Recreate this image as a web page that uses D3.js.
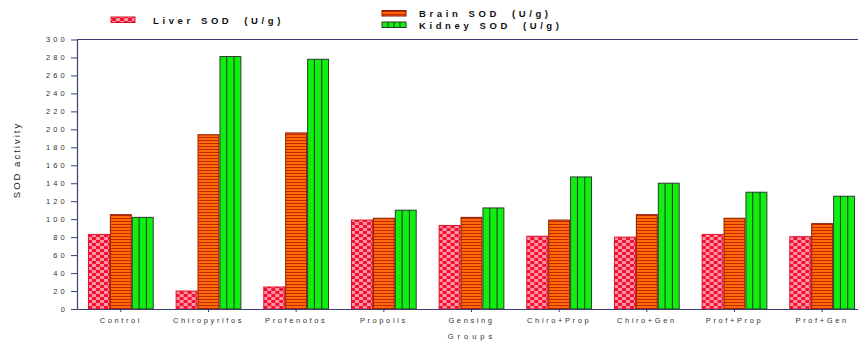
<!DOCTYPE html>
<html>
<head>
<meta charset="utf-8">
<script src="https://cdn.jsdelivr.net/npm/d3@7"></script>
<style>
  body { margin: 0; background: #fff; }
  svg { display: block; font-family: "Liberation Sans", Arial, sans-serif; }
</style>
</head>
<body>
<svg id="chart"></svg>
<script>
const groups = ['Control', 'Chiropyrifos', 'Profenofos', 'Propolis', 'Gensing',
  'Chiro+Prop', 'Chiro+Gen', 'Prof+Prop', 'Prof+Gen'];
const series = ['Liver SOD (U/g)', 'Brain SOD (U/g)', 'Kidney SOD (U/g)'];
const liver = [83, 20, 24.5, 99, 93, 81, 80, 83, 80.5];
const brain = [105, 194, 196, 101, 102, 99, 105, 101, 95];
const kidney = [102, 281, 278, 110, 112.5, 147, 140, 130, 125.5];
const yTicks = [0, 20, 40, 60, 80, 100, 120, 140, 160, 180, 200, 220, 240, 260, 280, 300];

const W = 858, H = 343;
const plotLeft = 77, plotTop = 39.5, plotBottom = 309;
const axisColor = '#3c3c70';

const svg = d3.select('#chart').attr('width', W).attr('height', H);
const defs = svg.append('defs');

// liver: red / pink checkerboard
const pl = defs.append('pattern').attr('id', 'pLiver')
  .attr('patternUnits', 'userSpaceOnUse').attr('width', 8).attr('height', 6);
pl.append('rect').attr('width', 8).attr('height', 6).attr('fill', '#ff95a8');
pl.append('rect').attr('width', 4).attr('height', 3).attr('fill', '#f5102e');
pl.append('rect').attr('x', 4).attr('y', 3).attr('width', 4).attr('height', 3).attr('fill', '#f5102e');

// brain: orange with thin dark horizontal stripes
const pb = defs.append('pattern').attr('id', 'pBrain')
  .attr('patternUnits', 'userSpaceOnUse').attr('width', 6).attr('height', 3);
pb.append('rect').attr('width', 6).attr('height', 3).attr('fill', '#ff6a08');
pb.append('rect').attr('y', 2).attr('width', 6).attr('height', 1).attr('fill', '#c42800');

const fills = ['url(#pLiver)', 'url(#pBrain)', '#10f010'];
const strokes = ['#e0102a', '#8a1a00', '#2b3b2b'];

const x = d3.scaleBand().domain(groups).range([plotLeft, 866])
  .paddingInner(0.25).paddingOuter(0.125);
const xs = d3.scaleBand().domain(series).range([0, x.bandwidth()]);
const y = d3.scaleLinear().domain([0, 300]).range([plotBottom, plotTop]);

const rows = groups.map((g, i) => ({ g, vals: [liver[i], brain[i], kidney[i]] }));

// top frame line
svg.append('line')
  .attr('x1', plotLeft).attr('x2', W).attr('y1', y(300)).attr('y2', y(300))
  .attr('stroke', axisColor).attr('stroke-width', 1.2);

const gGroup = svg.selectAll('g.grp').data(rows).join('g')
  .attr('class', 'grp')
  .attr('transform', d => `translate(${x(d.g)},0)`);

gGroup.selectAll('rect').data(d => d.vals.map((v, k) => ({ v, k })))
  .join('rect')
  .attr('x', d => xs(series[d.k]) + 0.5)
  .attr('y', d => y(d.v))
  .attr('width', xs.bandwidth() - 1)
  .attr('height', d => plotBottom - y(d.v))
  .attr('fill', d => fills[d.k])
  .attr('stroke', d => strokes[d.k])
  .attr('stroke-width', 1);

// kidney bars: vertical dividers
gGroup.each(function (d) {
  const g = d3.select(this);
  const x0 = xs(series[2]);
  const bw = xs.bandwidth();
  [1, 2].forEach(j => {
    g.append('line')
      .attr('x1', x0 + bw * j / 3).attr('x2', x0 + bw * j / 3)
      .attr('y1', y(d.vals[2])).attr('y2', plotBottom)
      .attr('stroke', '#203020').attr('stroke-width', 1);
  });
});

// y axis
const yAxis = svg.append('g')
  .attr('transform', `translate(${plotLeft},0)`)
  .call(d3.axisLeft(y).tickValues(yTicks).tickSize(6).tickPadding(3).tickSizeOuter(0));
yAxis.select('.domain').attr('stroke', axisColor).attr('stroke-width', 1.2);
yAxis.selectAll('.tick line').attr('stroke', axisColor);
yAxis.selectAll('.tick text')
  .attr('fill', '#333').style('font-size', '7.5px').style('letter-spacing', '3.2px');

// x axis
const xAxis = svg.append('g')
  .attr('transform', `translate(0,${plotBottom})`)
  .call(d3.axisBottom(x).tickSize(3).tickPadding(6).tickSizeOuter(0));
xAxis.select('.domain').attr('stroke', axisColor).attr('stroke-width', 1.2);
xAxis.selectAll('.tick line').attr('stroke', axisColor);
xAxis.selectAll('.tick text')
  .attr('fill', '#333').style('font-size', '7.5px').style('letter-spacing', '2.6px');

// axis titles
svg.append('text')
  .attr('transform', `translate(20,160) rotate(-90)`)
  .attr('text-anchor', 'middle')
  .style('font-size', '9.5px').style('letter-spacing', '2px').attr('fill', '#222')
  .text('SOD activity');

svg.append('text')
  .attr('x', 472).attr('y', 339)
  .attr('text-anchor', 'middle')
  .style('font-size', '7.5px').style('letter-spacing', '4px').attr('fill', '#333')
  .text('Groups');

// legend
const legendPos = [
  { sx: 111, sy: 17, tx: 153, ty: 24 },
  { sx: 382, sy: 10.5, tx: 419, ty: 17 },
  { sx: 382, sy: 22, tx: 419, ty: 29 }
];
const legend = svg.selectAll('g.leg').data(series).join('g').attr('class', 'leg');
legend.append('rect')
  .attr('x', (d, i) => legendPos[i].sx).attr('y', (d, i) => legendPos[i].sy)
  .attr('width', 24).attr('height', 5.5)
  .attr('fill', (d, i) => fills[i]).attr('stroke', (d, i) => strokes[i]);
legend.filter((d, i) => i === 2).each(function () {
  const g = d3.select(this);
  [1, 2, 3].forEach(j => {
    g.append('line')
      .attr('x1', 382 + j * 6).attr('x2', 382 + j * 6)
      .attr('y1', 22).attr('y2', 27.5)
      .attr('stroke', '#203020');
  });
});
const legText = legend.append('text')
  .attr('x', (d, i) => legendPos[i].tx).attr('y', (d, i) => legendPos[i].ty)
  .style('font-size', '9.5px').style('font-weight', 'bold').style('letter-spacing', '3.6px')
  .style('word-spacing', '1px')
  .attr('fill', '#111');
legText.append('tspan').text(d => d.split(' (')[0]);
legText.append('tspan').attr('dx', 12).text(d => '(' + d.split(' (')[1]);
</script>
</body>
</html>
